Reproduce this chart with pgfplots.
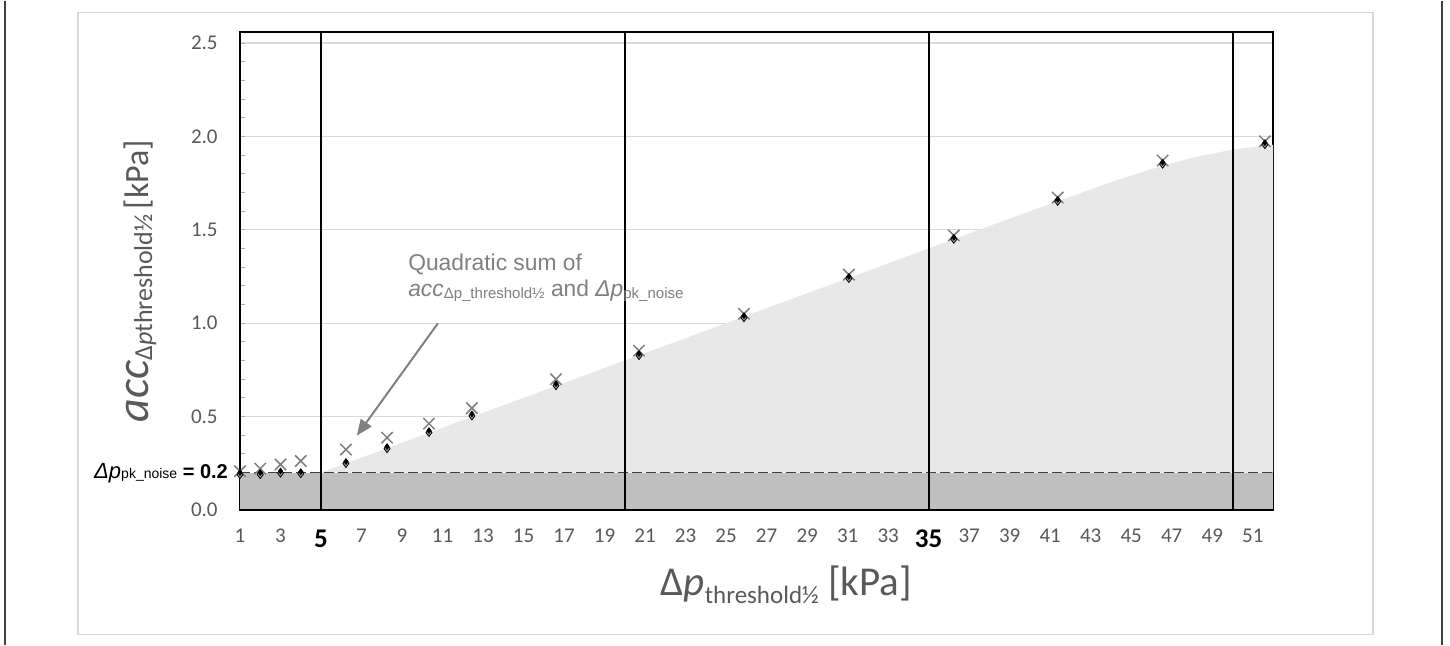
\documentclass[border=0pt]{standalone}
\usepackage{pgfplots}
\pgfplotsset{compat=1.18}
\usetikzlibrary{arrows.meta}
\usepackage{fontspec}
\setmainfont{Carlito}
\newfontfamily\arial{Liberation Sans}
\definecolor{tickgray}{HTML}{595959}
\definecolor{annogray}{HTML}{808080}
\definecolor{darkfill}{HTML}{BFBFBF}
\definecolor{lightfill}{HTML}{E8E8E8}
\definecolor{gridgray}{HTML}{D9D9D9}
\definecolor{framegray}{HTML}{D9D9D9}
\definecolor{dashgray}{HTML}{404040}
\definecolor{crossgray}{HTML}{7F7F7F}

\pgfplotstableread{
x y
1 0.207
2 0.221
3 0.243
4 0.262
6.23 0.323
8.26 0.387
10.33 0.462
12.45 0.545
16.6 0.700
20.7 0.853
25.88 1.050
31.06 1.260
36.24 1.470
41.37 1.673
46.55 1.871
51.6 1.974
}\crossdata

\pgfplotstableread{
x y
1 0.200
2 0.200
3 0.208
4 0.205
6.23 0.259
8.26 0.339
10.33 0.425
12.45 0.514
16.6 0.676
20.7 0.837
25.88 1.040
31.06 1.250
36.24 1.460
41.37 1.663
46.55 1.862
51.6 1.967
}\diamdata

\pgfplotstableread{
x y
5 0.2
10 0.4
20 0.8
30 1.2
40 1.6
44 1.755
46 1.825
48 1.885
50 1.930
52 1.955
}\areadata

\begin{document}
\begin{tikzpicture}
\fill[white] (0pt,0pt) rectangle (725pt,-322pt);
\draw[framegray, line width=0.7pt] (39pt,-6pt) rectangle (686.5pt,-317pt);
\draw[black!75, line width=0.6pt] (2.5pt,0pt) -- (2.5pt,-322pt);
\draw[black!75, line width=0.6pt] (721pt,0pt) -- (721pt,-322pt);
\begin{axis}[
  at={(120pt,-254.65pt)}, anchor=south west,
  scale only axis, width=516.5pt, height=239pt,
  xmin=1, xmax=52, ymin=0, ymax=2.56,
  clip=false,
  axis line style={black, line width=1pt},
  xtick={1,3,...,51},
  xticklabels={1,3,{\raisebox{-2.5pt}{\fontsize{13.5}{14}\selectfont\bfseries\color{black}5}},7,9,11,13,15,17,19,21,23,25,27,29,31,33,{\raisebox{-2.5pt}{\fontsize{13.5}{14}\selectfont\bfseries\color{black}35}},37,39,41,43,45,47,49,51},
  xtick style={draw=none},
  xticklabel style={anchor=base, yshift=-16.5pt, inner sep=0pt, font=\fontsize{10.5}{12}\selectfont, text=tickgray},
  ytick={0,0.5,1,1.5,2,2.5},
  minor y tick num=4,
  ytick pos=left, xtick pos=bottom,
  tick align=inside,
  major tick length=2.5pt, minor tick length=2.5pt,
  y tick style={gridgray!80!black, line width=0.5pt},
  ymajorgrids, grid style={gridgray, line width=0.6pt},
  yticklabel style={anchor=east, inner sep=0pt, xshift=-11pt, font=\fontsize{10.5}{12}\selectfont, text=tickgray,
    /pgf/number format/.cd, fixed, fixed zerofill, precision=1, assume math mode=true},
]
% light area
\addplot[draw=none, fill=lightfill] table[x=x,y=y]{\areadata} -- (axis cs:52,0.2) -- (axis cs:5,0.2) -- cycle;
% dark band
\addplot[draw=none, fill=darkfill] coordinates {(1,0) (52,0) (52,0.2) (1,0.2)} -- cycle;
% bottom line
\addplot[black, line width=1pt] coordinates {(1,0) (52,0)};
% dashed noise line
\addplot[dashgray, line width=0.7pt, dash pattern=on 5pt off 2pt] coordinates {(1,0.2) (52,0.2)};
% vertical boundaries
\addplot[black, line width=1pt] coordinates {(5,0) (5,2.56)};
\addplot[black, line width=1pt] coordinates {(20,0) (20,2.56)};
\addplot[black, line width=1pt] coordinates {(35,0) (35,2.56)};
\addplot[black, line width=1pt] coordinates {(50,0) (50,2.56)};
% crosses
\addplot[only marks, mark=x, mark size=4pt, mark options={crossgray, line width=0.75pt}] table[x=x,y=y]{\crossdata};
% diamonds shadow
\addplot[only marks, mark=diamond*, mark size=2pt, mark options={fill=gray!75, draw=none, yshift=-1pt}] table[x=x,y=y]{\diamdata};
\addplot[only marks, mark=diamond*, mark size=1.4pt, mark options={fill=black, draw=none}] table[x=x,y=y]{\diamdata};

% noise label
\node[anchor=base east, inner sep=0pt] at (axis cs:0.42,0.168)
  {\arial{\fontsize{11}{13}\selectfont\itshape Δp}{\fontsize{7}{9}\selectfont pk\_noise}{\fontsize{10}{12}\selectfont\ \textbf{= 0.2}}};

% annotation
\node[anchor=base west, inner sep=0pt, text=annogray] at (axis cs:9.29,1.282)
  {\arial\fontsize{11.4}{13}\selectfont Quadratic sum of};
\node[anchor=base west, inner sep=0pt, text=annogray] at (axis cs:9.29,1.143)
  {\arial\fontsize{11.4}{13}\selectfont\textit{acc}\raisebox{-0.8pt}{\fontsize{7.5}{9}\selectfont Δp\_threshold½} and \textit{Δp}\raisebox{-0.8pt}{\fontsize{7.5}{9}\selectfont pk\_noise}};
\draw[annogray, line width=1pt, -{Triangle[length=8pt,width=6.5pt]}] (axis cs:10.77,0.999) -- (axis cs:6.77,0.398);

% x label
\node[anchor=base, inner sep=0pt, text=tickgray] at (axis cs:27.97,-0.459)
  {\fontsize{20.5}{24}\selectfont Δ\textit{p}\raisebox{-3.8pt}{\fontsize{12.5}{14}\selectfont threshold½}\ [kPa]};

% y label
\node[anchor=base, inner sep=0pt, text=tickgray, rotate=90] at (axis cs:-3.54,1.2255)
  {{\fontsize{23}{24}\selectfont\itshape acc}\raisebox{-2pt}{\fontsize{13}{14}\selectfont Δ\textit{p}threshold½}\ {\fontsize{17}{18}\selectfont [kPa]}};
\end{axis}
\end{tikzpicture}
\end{document}
